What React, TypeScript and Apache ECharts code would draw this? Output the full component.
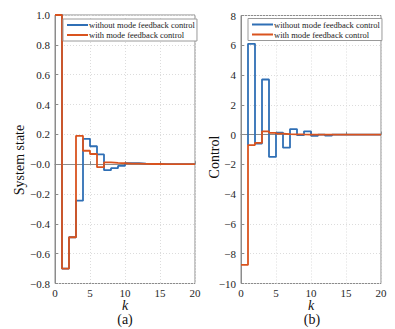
import React, { useEffect, useRef } from "react";
import * as echarts from "echarts";

const kSteps = [0, 1, 2, 3, 4, 5, 6, 7, 8, 9, 10, 11, 12, 13, 14, 15, 16, 17, 18, 19, 20];

// (a) System state
const stateWithout = [1.0, -0.70, -0.49, -0.245, 0.17, 0.12, 0.065, -0.04, -0.027, -0.012, 0.007, 0.007, 0.004, 0.002, 0.001, 0, 0, 0, 0, 0, 0];
const stateWith = [1.0, -0.70, -0.49, 0.19, 0.09, 0.068, -0.02, 0.012, 0.008, 0.006, 0.004, 0.003, 0.002, 0.001, 0.001, 0, 0, 0, 0, 0, 0];

// (b) Control
const controlWithoutK = [1, 1, 2, 3, 4, 5, 6, 7, 8, 9, 10, 11, 12, 13, 14, 15, 16, 17, 18, 19, 20];
const controlWithout = [-0.7, 6.1, -0.6, 3.7, -1.5, 0.14, -0.88, 0.37, -0.04, 0.22, -0.08, 0.0, -0.07, 0, 0, 0, 0, 0, 0, 0, 0];
const controlWith = [-8.75, -0.7, -0.55, 0.22, 0.12, 0.06, 0.03, 0.02, 0.01, 0.005, 0, 0, 0, 0, 0, 0, 0, 0, 0, 0, 0];

const seriesNames = ["without mode feedback control", "with mode feedback control"];
const blue = "#2f6fb5";
const orange = "#d9531e";
const FONT = "'Liberation Serif', 'Times New Roman', Times, serif";

function pairs(xs: number[], ys: number[]) {
  return xs.map((x, i) => [x, ys[i]]);
}

function fmtState(v: number) {
  if (Math.abs(v) < 1e-9) return "\u22120.0";
  return v < 0 ? "\u2212" + Math.abs(v).toFixed(1) : v.toFixed(1);
}
function fmtInt(v: number) {
  return v < 0 ? "\u2212" + Math.abs(v) : String(v);
}

export default function App() {
  const ref = useRef<HTMLDivElement>(null);
  useEffect(() => {
    if (!ref.current) return;
    const chart = echarts.init(ref.current, undefined, { renderer: "svg" });
    const axisLabel = { color: "#262626", fontFamily: FONT, fontSize: 11, margin: 5 };
    const splitLine = { show: true, lineStyle: { color: "#dcdcdc", type: [1, 2] as any, width: 1 } };
    const axisLine = { show: true, lineStyle: { color: "#8c8c8c", width: 1 } };
    const axisTick = { show: true, inside: true, length: 3, lineStyle: { color: "#8c8c8c" } };
    const xAxisBase = (gi: number) => ({
      type: "value" as const,
      gridIndex: gi,
      min: 0,
      max: 20,
      interval: 5,
      axisLabel: { ...axisLabel, margin: 4 },
      splitLine,
      axisLine,
      axisTick,
    });
    const lineSeries = (name: string, data: number[][], color: string, xi: number, z: number) => ({
      type: "line" as const,
      name,
      data,
      xAxisIndex: xi,
      yAxisIndex: xi,
      step: "end" as const,
      showSymbol: false,
      symbol: "none",
      lineStyle: { color, width: 1.8 },
      itemStyle: { color },
      z,
    });
    const legendBase = {
      orient: "vertical" as const,
      data: seriesNames,
      icon: "rect",
      itemWidth: 21,
      itemHeight: 2,
      itemGap: 0,
      padding: [1, 2, 1, 4],
      borderColor: "#9a9a9a",
      borderWidth: 1,
      backgroundColor: "#fff",
      borderRadius: 0,
      textStyle: { fontFamily: FONT, fontSize: 8.5, color: "#222", lineHeight: 10, padding: [0, 0, 0, -4] },
    };
    const tfont = (s: string) => `${s} "Liberation Serif", "Times New Roman", serif`;
    chart.setOption({
      animation: false,
      backgroundColor: "#fff",
      grid: [
        { left: 55, top: 15, width: 140, height: 268.5, show: true, borderColor: "#8c8c8c", borderWidth: 1, backgroundColor: "transparent" },
        { left: 241, top: 15.5, width: 140, height: 268, show: true, borderColor: "#8c8c8c", borderWidth: 1, backgroundColor: "transparent" },
      ],
      xAxis: [xAxisBase(0), xAxisBase(1)],
      yAxis: [
        {
          type: "value",
          gridIndex: 0,
          min: -0.8,
          max: 1.0,
          interval: 0.2,
          axisLabel: { ...axisLabel, formatter: fmtState },
          splitLine,
          axisLine,
          axisTick,
        },
        {
          type: "value",
          gridIndex: 1,
          min: -10,
          max: 8,
          interval: 2,
          axisLabel: { ...axisLabel, formatter: fmtInt },
          splitLine,
          axisLine,
          axisTick,
        },
      ],
      legend: [
        { ...legendBase, left: 63, top: 19 },
        { ...legendBase, left: 248, top: 18.5 },
      ],
      series: [
        lineSeries(seriesNames[0], pairs(kSteps, stateWithout), blue, 0, 2),
        lineSeries(seriesNames[1], pairs(kSteps, stateWith), orange, 0, 3),
        lineSeries(seriesNames[0], pairs(controlWithoutK, controlWithout), blue, 1, 2),
        lineSeries(seriesNames[1], pairs(kSteps, controlWith), orange, 1, 3),
      ],
      graphic: [
        { type: "text", x: 19, y: 160, rotation: Math.PI / 2, style: { text: "System state", font: tfont("14px"), fill: "#111", align: "center", verticalAlign: "middle" } },
        { type: "text", x: 214, y: 157, rotation: Math.PI / 2, style: { text: "Control", font: tfont("14px"), fill: "#111", align: "center", verticalAlign: "middle" } },
        { type: "text", x: 125, y: 305, style: { text: "k", font: tfont("italic 14px"), fill: "#111", align: "center", verticalAlign: "middle" } },
        { type: "text", x: 311, y: 305, style: { text: "k", font: tfont("italic 14px"), fill: "#111", align: "center", verticalAlign: "middle" } },
        { type: "text", x: 125, y: 319, style: { text: "(a)", font: tfont("14px"), fill: "#111", align: "center", verticalAlign: "middle" } },
        { type: "text", x: 312, y: 319, style: { text: "(b)", font: tfont("14px"), fill: "#111", align: "center", verticalAlign: "middle" } },
      ],
    });
    return () => chart.dispose();
  }, []);
  return (
    <div
      ref={ref}
      style={{ position: "fixed", left: 0, top: 0, width: 395, height: 329, background: "#fff" }}
    />
  );
}
